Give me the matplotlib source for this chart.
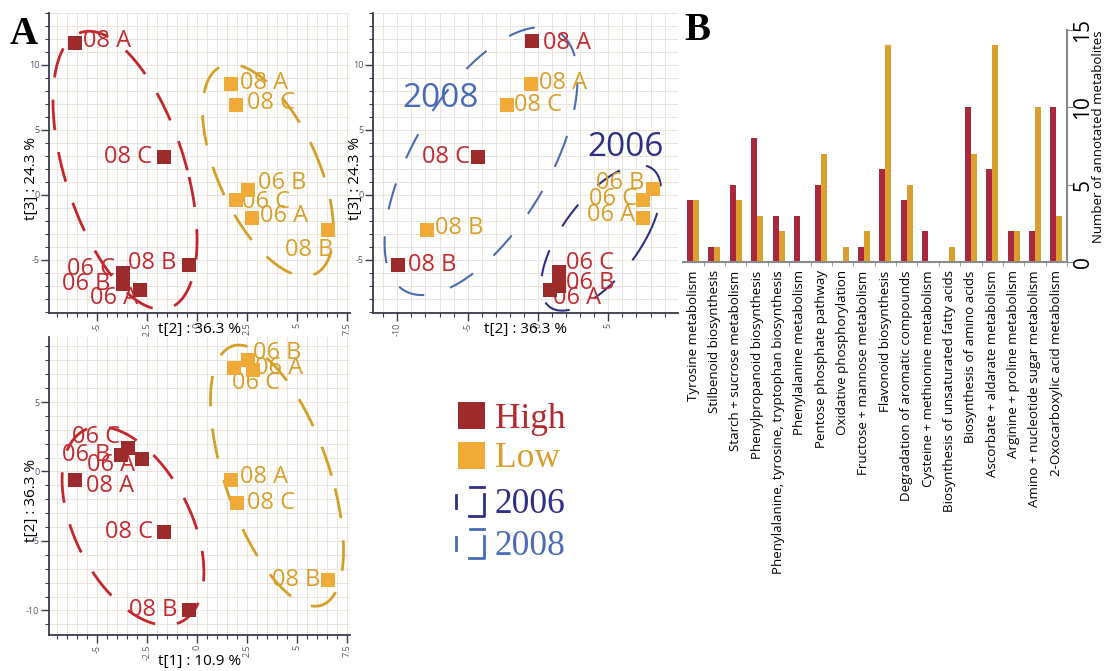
import matplotlib.pyplot as plt
import numpy as np
from matplotlib.patches import Rectangle
from matplotlib.ticker import MultipleLocator

plt.rcParams['font.family'] = ['Open Sans', 'DejaVu Sans']
plt.rcParams['axes.unicode_minus'] = False

W, H = 1105, 671

# ---------------- data ----------------
# sample order used in every score plot list below
samples = ['08 A', '08 C', '08 B', '06 C', '06 B', '06 A']

# top left score plot: t[2] vs t[3]
tl_high_x = [-6.1, -1.65, -0.4, -3.7, -3.7, -2.85]
tl_high_y = [11.72, 2.91, -5.36, -5.98, -6.82, -7.28]
tl_low_x = [1.7, 1.95, 6.55, 1.95, 2.55, 2.75]
tl_low_y = [8.5, 6.9, -2.68, -0.38, 0.38, -1.76]

# top middle score plot (year grouping)
tm_high_x = [-0.43, -4.26, -9.95, 1.49, 1.49, 0.85]
tm_high_y = [11.88, 2.91, -5.36, -5.9, -6.97, -7.28]
tm_low_x = [-0.5, -2.2, -7.89, 7.46, 8.17, 7.46]
tm_low_y = [8.5, 6.9, -2.68, -0.38, 0.46, -1.76]

# bottom left score plot: t[1] vs t[2]
bl_high_x = [-6.1, -1.65, -0.4, -3.45, -3.8, -2.75]
bl_high_y = [-0.61, -4.36, -9.97, 1.69, 1.19, 0.9]
bl_low_x = [1.7, 2.0, 6.55, 1.85, 2.55, 2.8]
bl_low_y = [-0.61, -2.27, -7.81, 7.45, 8.03, 7.31]

tl_xticks = [-5, -2.5, 0, 2.5, 5, 7.5]
tl_xticklabels = ['-5', '-2.5', '0', '2.5', '5', '7.5']
tl_yticks = [-5, 0, 5, 10]
tm_xticks = [-10, -5, 0, 5]
tm_yticks = [-5, 0, 5, 10]
bl_yticks = [-10, -5, 0, 5]

# bar chart
pathways = ['Tyrosine metabolism', 'Stilbenoid biosynthesis',
            'Starch + sucrose metabolism', 'Phenylpropanoid biosynthesis',
            'Phenylalanine, tyrosine, tryptophan biosynthesis',
            'Phenylalanine metabolism', 'Pentose phosphate pathway',
            'Oxidative phosphorylation', 'Fructose + mannose metabolism',
            'Flavonoid biosynthesis', 'Degradation of aromatic compounds',
            'Cysteine + methionine metabolism',
            'Biosynthesis of unsaturated fatty acids',
            'Biosynthesis of amino acids', 'Ascorbate + aldarate metabolism',
            'Arginine + proline metabolism',
            'Amino + nucleotide sugar metabolism',
            '2-Oxocarboxylic acid metabolism']
high_counts = [4, 1, 5, 8, 3, 3, 5, 0, 1, 6, 4, 2, 0, 10, 6, 2, 2, 10]
low_counts = [4, 1, 4, 3, 2, 0, 7, 1, 2, 14, 5, 0, 1, 7, 14, 2, 10, 3]
count_ticks = [0, 5, 10, 15]

# ---------------- styles ----------------
RED_SQ, ORG_SQ = '#9e2b2b', '#f0aa38'
RED_TX, ORG_TX = '#c22b30', '#d99f2c'
RED_EL, ORG_EL = '#c4262b', '#d4a02a'
BLUE06, BLUE08 = '#2e3088', '#4a6cb4'

# label offsets in pixels (dx, dy, ha) per sample
tl_high_off = [(8, 2, 'left'), (-12, 0, 'right'), (-13, 2, 'right'),
               (-8, 4, 'right'), (-13, 0, 'right'), (-2, -8, 'right')]
tl_low_off = [(9, 1, 'left'), (11, 2, 'left'), (5, -20, 'right'),
              (6, -2, 'left'), (10, 7, 'left'), (8, 2, 'left')]
tm_high_off = [(11, -2, 'left'), (-8, 0, 'right'), (10, 0, 'left'),
               (7, 9, 'left'), (7, 3, 'left'), (3, -8, 'left')]
tm_low_off = [(8, 1, 'left'), (7, 0, 'left'), (8, 2, 'left'),
              (-6, 1, 'right'), (-9, 6, 'right'), (-8, 3, 'right')]
bl_high_off = [(11, -6, 'left'), (-11, 0, 'right'), (-12, 0, 'right'),
               (-8, 11, 'right'), (-11, 0, 'right'), (-7, -6, 'right')]
bl_low_off = [(9, 3, 'left'), (10, 0, 'left'), (-8, 0, 'right'),
              (-2, -15, 'left'), (5, 7, 'left'), (2, 2, 'left')]


def px_axes(left, top, right, bottom):
    return fig.add_axes([left / W, 1 - bottom / H, (right - left) / W, (bottom - top) / H])


def style_score(ax, xticks, xlabels, yticks, xminor, xlabel, ylabel, xlab_y=-0.05):
    for s in ['top', 'right']:
        ax.spines[s].set_visible(False)
    for s in ['left', 'bottom']:
        ax.spines[s].set_color('#3a3a4a')
        ax.spines[s].set_linewidth(1.3)
    ax.set_xticks(xticks, xlabels, rotation=90)
    ax.set_yticks(yticks, [str(v) for v in yticks])
    ax.xaxis.set_minor_locator(MultipleLocator(xminor))
    ax.yaxis.set_minor_locator(MultipleLocator(1))
    ax.tick_params(which='major', length=6, width=1, color='#3a3a4a',
                   labelsize=6.5, labelcolor='#55556a', pad=1)
    ax.tick_params(which='minor', length=3, width=0.8, color='#3a3a4a')
    ax.grid(which='both', color='#ebe4dc', lw=0.7)
    ax.set_axisbelow(True)
    ax.text(0.5, xlab_y, xlabel, transform=ax.transAxes, ha='center',
            va='top', fontsize=11)
    ax.text(-0.058, 0.45, ylabel, transform=ax.transAxes, ha='center',
            va='center', rotation=90, fontsize=11)


def dashed_ellipse(ax, cx, cy, a, b, k, color, lw, dashes):
    t = np.linspace(0, 2 * np.pi, 500)
    ax.plot(cx + a * np.cos(t) - k * np.sin(t), cy + b * np.sin(t),
            color=color, lw=lw, dashes=dashes, zorder=2)


def draw_points(ax, xs, ys, offs, sq, tx):
    ax.plot(xs, ys, 's', ms=10.5, color=sq, mew=0, zorder=4)
    for name, x, y, (dx, dy, ha) in zip(samples, xs, ys, offs):
        ax.annotate(name, (x, y), xytext=(dx, dy), textcoords='offset pixels',
                    ha=ha, va='center', fontsize=17, color=tx, zorder=3)


fig = plt.figure(figsize=(W / 100, H / 100), dpi=100)

# top left
ax1 = px_axes(49, 13, 350, 313)
ax1.set_xlim(-7.4, 7.65)
ax1.set_ylim(-9.08, 14.0)
style_score(ax1, tl_xticks, tl_xticklabels, tl_yticks, 0.5,
            't[2] : 36.3 %', 't[3] : 24.3 %', -0.03)
dashed_ellipse(ax1, -3.6, 1.9, 3.12, 10.7, 1.8, RED_EL, 2.0, (11, 8))
dashed_ellipse(ax1, 3.55, 1.9, 2.7, 8.15, 1.85, ORG_EL, 2.0, (11, 8))
draw_points(ax1, tl_high_x, tl_high_y, tl_high_off, RED_SQ, RED_TX)
draw_points(ax1, tl_low_x, tl_low_y, tl_low_off, ORG_SQ, ORG_TX)

# top middle
ax2 = px_axes(373, 13, 678, 313)
ax2.set_xlim(-11.73, 9.95)
ax2.set_ylim(-9.08, 14.0)
style_score(ax2, tm_xticks, [str(v) for v in tm_xticks], tm_yticks, 1,
            't[2] : 36.3 %', 't[3] : 24.3 %', -0.03)
dashed_ellipse(ax2, -4.05, 2.6, 5.42, 10.3, -4.2, BLUE08, 1.5, (13, 13))
dashed_ellipse(ax2, 4.48, -3.3, 3.24, 5.6, -2.77, BLUE06, 1.5, (13, 13))
draw_points(ax2, tm_high_x, tm_high_y, tm_high_off, RED_SQ, RED_TX)
draw_points(ax2, tm_low_x, tm_low_y, tm_low_off, ORG_SQ, ORG_TX)
ax2.text(-6.9, 7.43, '2008', ha='center', va='center', fontsize=24, color=BLUE08)
ax2.text(6.25, 3.68, '2006', ha='center', va='center', fontsize=24, color=BLUE06)

# bottom left
ax3 = px_axes(49, 337, 350, 635)
ax3.set_xlim(-7.4, 7.65)
ax3.set_ylim(-11.77, 9.68)
style_score(ax3, tl_xticks, tl_xticklabels, bl_yticks, 0.5,
            't[1] : 10.9 %', 't[2] : 36.3 %', -0.065)
dashed_ellipse(ax3, -3.2, -3.92, 3.14, 7.15, 1.65, RED_EL, 2.0, (11, 8))
dashed_ellipse(ax3, 4.0, -0.3, 2.73, 9.4, 1.9, ORG_EL, 2.0, (11, 8))
draw_points(ax3, bl_high_x, bl_high_y, bl_high_off, RED_SQ, RED_TX)
draw_points(ax3, bl_low_x, bl_low_y, bl_low_off, ORG_SQ, ORG_TX)

# bar chart (B)
axb = px_axes(683, 30, 1067, 262)
x = np.arange(len(pathways))
axb.bar(x - 0.14, high_counts, width=0.28, color='#a8283f')
axb.bar(x + 0.14, low_counts, width=0.28, color='#d9a030')
axb.set_xlim(-0.47, len(pathways) - 0.52)
axb.set_ylim(0, 15)
for s in ['top', 'left']:
    axb.spines[s].set_visible(False)
for s in ['right', 'bottom']:
    axb.spines[s].set_color('#8a8a8a')
    axb.spines[s].set_linewidth(1.5)
axb.yaxis.tick_right()
axb.set_yticks(count_ticks, [str(v) for v in count_ticks], rotation=90,
               va='center', fontsize=15)
axb.tick_params(axis='y', length=4, color='#8a8a8a', pad=0)
axb.set_xticks(x, pathways, rotation=90, fontsize=9.6)
axb.tick_params(axis='x', length=0, pad=6)
axb.set_xticks(x + 0.5, minor=True)
axb.tick_params(axis='x', which='minor', length=3, color='#8a8a8a')
axb.yaxis.set_label_position('right')
axb.set_ylabel('Number of annotated metabolites', fontsize=9.5)
axb.yaxis.set_label_coords(1.064, 0.54)

# overlay for legend and panel letters (pixel coordinates)
ov = fig.add_axes([0, 0, 1, 1])
ov.set_xlim(0, W)
ov.set_ylim(H, 0)
ov.axis('off')
serif = 'Liberation Serif'
ov.text(10, 44, 'A', fontsize=28, fontweight='bold', family=serif, va='baseline')
ov.text(684, 40, 'B', fontsize=28, fontweight='bold', family=serif, va='baseline')

ov.add_patch(Rectangle((458, 402), 27, 27, color=RED_SQ, lw=0))
ov.add_patch(Rectangle((458, 442), 27, 27, color=ORG_SQ, lw=0))
ov.text(495, 428, 'High', fontsize=25.5, family=serif, color='#b52a2e', va='baseline')
ov.text(495, 467, 'Low', fontsize=25.5, family=serif, color='#d99f2c', va='baseline')
for dy, lab, col in [(0, '2006', BLUE06), (42, '2008', BLUE08)]:
    ov.plot([456, 456], [495 + dy, 508 + dy], color=col, lw=2)
    ov.plot([470, 484], [487 + dy, 487 + dy], color=col, lw=2)
    ov.plot([484, 484, 469], [494 + dy, 516 + dy, 516 + dy], color=col, lw=2)
    ov.text(495, 513 + dy, lab, fontsize=25.5, family=serif, color=col, va='baseline')

plt.savefig('out.png', dpi=100)
